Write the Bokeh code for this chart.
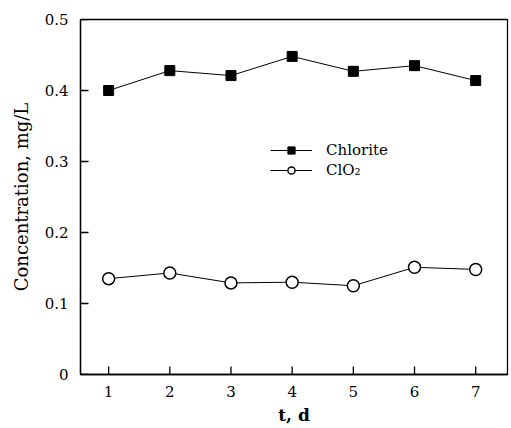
from bokeh.plotting import figure
from bokeh.models import Range1d, FixedTicker, Legend, LegendItem
from bokeh.embed import file_html
from bokeh.resources import INLINE

days = [1, 2, 3, 4, 5, 6, 7]
chlorite = [0.400, 0.428, 0.421, 0.448, 0.427, 0.435, 0.414]
clo2 = [0.135, 0.143, 0.129, 0.130, 0.125, 0.151, 0.148]
y_ticks = [0, 0.1, 0.2, 0.3, 0.4, 0.5]
y_tick_labels = ["0", "0.1", "0.2", "0.3", "0.4", "0.5"]
x_ticks = [1, 2, 3, 4, 5, 6, 7]

FONT = "DejaVu Serif"
X0, X1 = 0.54, 7.52
Y0, Y1 = 0.0, 0.5

p = figure(width=511, height=428, output_backend="svg", toolbar_location=None,
           x_range=Range1d(X0, X1), y_range=Range1d(Y0, Y1),
           min_border_left=80, min_border_right=4, min_border_top=19, min_border_bottom=54)
p.background_fill_color = "white"
p.border_fill_color = "white"
p.outline_line_color = "black"
p.outline_line_width = 1.3
p.grid.visible = False

for ax in (p.xaxis[0], p.yaxis[0]):
    ax.axis_line_color = "black"
    ax.axis_line_width = 1.3
    ax.major_tick_in = 0
    ax.major_tick_out = 0
    ax.minor_tick_line_color = None
    ax.major_tick_line_color = None
    ax.major_label_text_font = FONT
    ax.major_label_text_font_size = "15px"
    ax.major_label_text_color = "black"

# inward tick marks drawn from the tick arrays
frame_w = 511 - 80 - 4
frame_h = 428 - 19 - 54
tick_len_px = 8
dx = tick_len_px * (X1 - X0) / frame_w
dy = tick_len_px * (Y1 - Y0) / frame_h
p.segment(x0=x_ticks, y0=[Y0] * len(x_ticks), x1=x_ticks, y1=[Y0 + dy] * len(x_ticks),
          line_color="black", line_width=1.3)
p.segment(x0=[X0] * len(y_ticks), y0=y_ticks, x1=[X0 + dx] * len(y_ticks), y1=y_ticks,
          line_color="black", line_width=1.3)

p.yaxis.ticker = FixedTicker(ticks=y_ticks)
p.yaxis.major_label_overrides = dict(zip(y_ticks, y_tick_labels))
p.yaxis.major_label_standoff = 12
p.yaxis.axis_label = "Concentration, mg/L"
p.yaxis.axis_label_text_font = FONT
p.yaxis.axis_label_text_font_size = "18px"
p.yaxis.axis_label_text_font_style = "normal"
p.yaxis.axis_label_text_color = "black"
p.yaxis.axis_label_standoff = 10

p.xaxis.ticker = FixedTicker(ticks=x_ticks)
p.xaxis.major_label_standoff = 11
p.xaxis.axis_label = "t, d"
p.xaxis.axis_label_text_font = FONT
p.xaxis.axis_label_text_font_size = "17px"
p.xaxis.axis_label_text_font_style = "bold"
p.xaxis.axis_label_text_color = "black"
p.xaxis.axis_label_standoff = 5

l1 = p.line(days, chlorite, line_color="black", line_width=1)
s1 = p.scatter(days, chlorite, marker="square", size=10, fill_color="black", line_color="black")
l2 = p.line(days, clo2, line_color="black", line_width=1)
s2 = p.scatter(days, clo2, marker="circle", size=12, fill_color="white", line_color="black", line_width=1.5)

legend = Legend(items=[LegendItem(label="Chlorite", renderers=[l1, s1]),
                       LegendItem(label="ClO\u2082", renderers=[l2, s2])],
                location=(190, 195), padding=0, margin=0, spacing=2,
                glyph_width=42, glyph_height=18, label_height=18, label_standoff=14,
                border_line_color=None, background_fill_alpha=0,
                label_text_font=FONT, label_text_font_size="15px", label_text_color="black")
p.add_layout(legend, "center")

open("out.html", "w").write(file_html(p, INLINE))
